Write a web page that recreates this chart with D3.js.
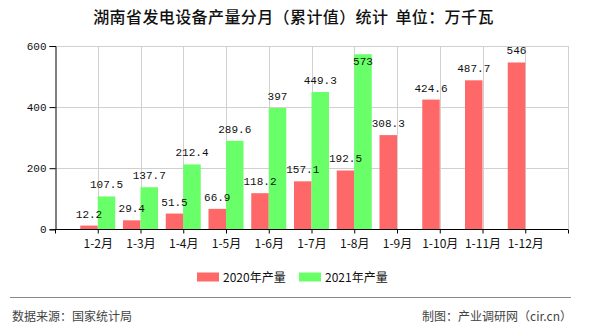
<!DOCTYPE html>
<html>
<head>
<meta charset="utf-8">
<script src="https://cdn.jsdelivr.net/npm/d3@7"></script>
<style>
  html, body { margin: 0; padding: 0; background: #fff; }
  svg { display: block; }
</style>
</head>
<body>
<svg id="chart" width="590" height="330"></svg>
<script>
// Cumulative monthly output of power-generation equipment in Hunan (10k kW)
const categories = ["1-2月", "1-3月", "1-4月", "1-5月", "1-6月", "1-7月", "1-8月", "1-9月", "1-10月", "1-11月", "1-12月"];
const values2020 = [12.2, 29.4, 51.5, 66.9, 118.2, 157.1, 192.5, 308.3, 424.6, 487.7, 546];
const values2021 = [107.5, 137.7, 212.4, 289.6, 397, 449.3, 573, null, null, null, null];
const seriesNames = ["2020年产量", "2021年产量"];
const seriesColors = ["#ff6868", "#68ff68"];
const yTicks = [0, 200, 400, 600];

const svg = d3.select("#chart");
const plotLeft = 55, plotRight = 568, plotTop = 46, plotBottom = 229.3;
const cjk = "'Noto Sans CJK SC', 'Noto Sans', sans-serif";
const mono = "'Liberation Mono', 'DejaVu Sans Mono', 'Noto Sans CJK SC', monospace";

// Category slots: each category sits on a slot boundary, with one empty slot at each end
const x = d3.scaleLinear().domain([0, categories.length + 1]).range([plotLeft, plotRight]);
const y = d3.scaleLinear().domain([0, 600]).range([plotBottom, plotTop]);
const barW = 17.5;

// Title
svg.append("text")
  .attr("x", 293.5).attr("y", 23)
  .attr("text-anchor", "middle")
  .style("font-family", cjk).style("font-size", "16px").style("font-weight", "500")
  .style("letter-spacing", "0.4px").style("word-spacing", "3px")
  .attr("fill", "#111")
  .text("湖南省发电设备产量分月（累计值）统计 单位：万千瓦");

// Grid
const grid = svg.append("g").attr("stroke", "#d0d0d0").attr("stroke-width", 1);
yTicks.filter(d => d > 0).forEach(t => {
  grid.append("line").attr("x1", plotLeft).attr("x2", plotRight)
    .attr("y1", Math.round(y(t)) + 0.5).attr("y2", Math.round(y(t)) + 0.5);
});
d3.range(1, categories.length + 2).forEach(i => {
  grid.append("line").attr("x1", Math.round(x(i)) + 0.5).attr("x2", Math.round(x(i)) + 0.5)
    .attr("y1", plotTop).attr("y2", plotBottom);
});

// Bars
const series = [values2020, values2021];
series.forEach((vals, s) => {
  const g = svg.append("g");
  vals.forEach((v, i) => {
    if (v == null) return;
    const cx = x(i + 1);
    const x0 = s === 0 ? cx - barW : cx;
    g.append("rect")
      .attr("x", x0).attr("width", barW)
      .attr("y", y(v)).attr("height", y(0) - y(v))
      .attr("fill", seriesColors[s]);
  });
});

// Value labels
series.forEach((vals, s) => {
  vals.forEach((v, i) => {
    if (v == null) return;
    const cx = x(i + 1) + (s === 0 ? -barW / 2 : barW / 2);
    let ly = y(v) - 8;
    if (ly < plotTop + 8) ly = y(v) + 11;
    svg.append("text")
      .attr("x", cx).attr("y", ly)
      .attr("text-anchor", "middle")
      .style("font-family", mono).style("font-size", "11px")
      .attr("fill", "#111")
      .text(v);
  });
});

// Y axis
const yAxis = svg.append("g").attr("transform", `translate(${plotLeft + 0.5},0)`)
  .call(d3.axisLeft(y).tickValues(yTicks).tickSize(6).tickPadding(3).tickFormat(d3.format("d")));
yAxis.select(".domain").attr("stroke", "#000");
yAxis.selectAll(".tick line").attr("stroke", "#000");
yAxis.selectAll("text").style("font-family", mono).style("font-size", "11px").attr("fill", "#111");

// X axis
const xAxis = svg.append("g").attr("transform", `translate(0,${Math.round(plotBottom) + 0.5})`)
  .call(d3.axisBottom(x).tickValues(d3.range(0, categories.length + 2)).tickSize(4).tickPadding(6)
    .tickFormat(i => (i >= 1 && i <= categories.length) ? categories[i - 1] : ""));
xAxis.select(".domain").attr("stroke", "#000").attr("d", `M${plotLeft},0H${plotRight}`);
xAxis.selectAll(".tick line").attr("stroke", "#000");
xAxis.selectAll("text").style("font-family", cjk).style("font-size", "12px").attr("fill", "#111");

// Legend
const legend = svg.append("g");
const legendX = [197, 299];
seriesNames.forEach((name, s) => {
  legend.append("rect").attr("x", legendX[s]).attr("y", 272.5).attr("width", 22).attr("height", 9)
    .attr("fill", seriesColors[s]);
  legend.append("text").attr("x", legendX[s] + 26).attr("y", 281.5)
    .style("font-family", cjk).style("font-size", "12px").attr("fill", "#111")
    .text(name);
});

// Footer
svg.append("line").attr("x1", 10).attr("x2", 571).attr("y1", 297.5).attr("y2", 297.5)
  .attr("stroke", "#888").attr("stroke-width", 1);
svg.append("text").attr("x", 12).attr("y", 320.5)
  .style("font-family", cjk).style("font-size", "12px").attr("fill", "#444")
  .text("数据来源：国家统计局");
svg.append("text").attr("x", 572).attr("y", 320.5).attr("text-anchor", "end")
  .style("font-family", cjk).style("font-size", "12px").attr("fill", "#444")
  .text("制图：产业调研网（cir.cn）");
</script>
</body>
</html>
